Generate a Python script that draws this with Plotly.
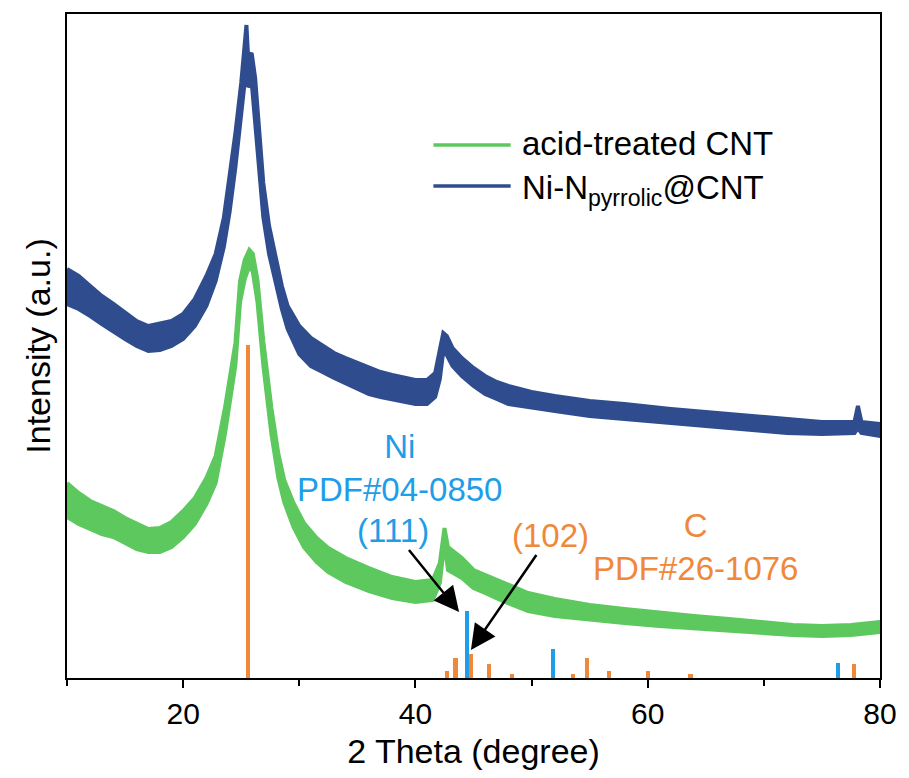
import plotly.graph_objects as go

# ---------------- data ----------------
# Ni-N_pyrrolic@CNT pattern: 2theta with the upper / lower edge of the noisy trace (a.u.)
ni_x = [10, 11, 12, 13, 14, 15, 16, 17, 18, 19, 20, 21, 22, 22.8, 23.5, 24, 24.5, 25, 25.3, 25.45,
        25.6, 25.9, 26.2, 26.5, 26.9, 27.4, 27.9, 28.5, 29, 30, 31, 32, 33, 34, 35, 36, 37, 38, 39,
        40, 41, 41.7, 42.1, 42.4, 42.7, 43.2, 44, 45, 46, 47, 48, 50, 52, 55, 58, 60, 62, 65, 68,
        70, 72, 75, 77.8, 78.1, 78.4, 80]
ni_upper = [409, 402, 392, 382, 374, 366, 357, 352, 354, 357, 364, 379, 402, 424, 460, 500, 545, 595, 630, 653,
            620, 625, 600, 555, 495, 452, 423, 392, 372, 352, 340, 332, 325, 320, 315, 310, 306, 303, 300,
            298, 298, 305, 328, 345, 342, 330, 320, 310, 302, 296, 292, 286, 282, 277, 274, 271, 269, 266, 263,
            261, 258, 256, 256, 272, 256, 254]
ni_lower = [374, 369, 362, 354, 346, 339, 332, 327, 328, 332, 339, 352, 372, 397, 431, 466, 511, 561, 596, 606,
            591, 596, 566, 516, 461, 424, 398, 369, 349, 324, 312, 306, 300, 294, 289, 284, 281, 278, 276,
            274, 274, 281, 299, 327, 323, 312, 302, 292, 284, 279, 274, 270, 267, 262, 259, 257, 255, 252, 249,
            247, 245, 244, 245, 250, 245, 242]

# acid-treated CNT pattern
cnt_x = [10, 11, 12, 13, 14, 15, 16, 17, 18, 19, 20, 21, 22, 22.8, 23.6, 24.1, 24.5, 24.9, 25.3, 25.7,
         26.0, 26.4, 26.9, 27.6, 28.2, 28.7, 29.5, 30.4, 31.5, 32.5, 34, 36, 38, 40, 41.5, 42.1, 42.5,
         42.8, 43.3, 44, 45, 46, 47.5, 49.7, 52, 55, 58, 61, 64, 67, 70, 72.5, 75, 77.5, 80]
cnt_upper = [195, 185, 177, 172, 167, 160, 154, 149, 150, 156, 167, 180, 200, 222, 270, 305, 335, 397, 418, 428,
             424, 398, 337, 270, 224, 198, 175, 155, 140, 130, 120, 110, 101, 96, 98, 115, 150,
             131, 126, 120, 108, 103, 95, 85, 79, 73, 69, 65, 62, 59, 56, 53, 52, 53, 56]
cnt_lower = [161, 154, 149, 144, 141, 135, 129, 126, 126, 131, 141, 154, 174, 195, 244, 281, 313, 376, 399, 412,
             406, 376, 313, 244, 200, 176, 151, 131, 116, 106, 96, 87, 80, 76, 78, 95, 136,
             108, 105, 100, 90, 85, 77, 67, 62, 59, 55, 52, 49, 47, 45, 43, 42, 43, 46]

# Reference stick patterns
c_pdf_x = [25.60, 42.74, 43.45, 44.79, 46.30, 48.34, 53.57, 54.76, 56.64, 60.05, 63.69, 77.75]
c_pdf_y = [333, 7, 20, 24, 14, 4, 4, 20, 7, 7, 4, 14]
ni_pdf_x = [44.44, 51.84, 76.39]
ni_pdf_y = [67, 29, 15]

x_ticks = [20, 40, 60, 80]

# ---------------- styles ----------------
GREEN = "#5cc85e"
NAVY = "#2f4d8e"
ORANGE = "#f0883a"
SKY = "#1e9de8"
FONT = "Liberation Sans, Arial, sans-serif"


def band(xs, up, lo):
    return list(xs) + list(xs)[::-1], list(up) + list(lo)[::-1]


fig = go.Figure()
bx, by = band(ni_x, ni_upper, ni_lower)
fig.add_trace(go.Scatter(x=bx, y=by, mode="lines", fill="toself", fillcolor=NAVY,
                         line=dict(color=NAVY, width=4), name="Ni-N<sub>pyrrolic</sub>@CNT",
                         showlegend=False, hoverinfo="skip"))
bx, by = band(cnt_x, cnt_upper, cnt_lower)
fig.add_trace(go.Scatter(x=bx, y=by, mode="lines", fill="toself", fillcolor=GREEN,
                         line=dict(color=GREEN, width=4), name="acid-treated CNT",
                         showlegend=False, hoverinfo="skip"))
fig.add_trace(go.Bar(x=c_pdf_x, y=c_pdf_y, width=0.36, marker=dict(color=ORANGE, line=dict(width=0)),
                     showlegend=False, name="C PDF#26-1076"))
fig.add_trace(go.Bar(x=ni_pdf_x, y=ni_pdf_y, width=0.36, marker=dict(color=SKY, line=dict(width=0)),
                     showlegend=False, name="Ni PDF#04-0850"))

# manual legend
leg_items = [("acid-treated CNT", GREEN, 0.8027, 0.8057),
             ("Ni-N<sub>pyrrolic</sub>@CNT", NAVY, 0.741, 0.735)]
for text, col, ly, ty in leg_items:
    fig.add_shape(type="line", xref="paper", yref="paper", x0=0.4507, x1=0.5457, y0=ly, y1=ly,
                  line=dict(color=col, width=3.5))
    fig.add_annotation(xref="paper", yref="paper", x=0.5566, y=ty, text=text, showarrow=False,
                       xanchor="left", yanchor="middle", font=dict(family=FONT, size=33, color="black"))

# labels
fig.add_annotation(x=38.65, y=210.5, text="Ni<br>PDF#04-0850", showarrow=False,
                   xanchor="center", yanchor="middle", align="center",
                   font=dict(family=FONT, size=33, color=SKY))
fig.add_annotation(x=64.14, y=131.5, text="C<br>PDF#26-1076", showarrow=False,
                   xanchor="center", yanchor="middle", align="center",
                   font=dict(family=FONT, size=33, color=ORANGE))
# hkl labels with arrows pointing at the reference sticks
fig.add_annotation(x=43.76, y=66, ax=38.05, ay=148, axref="x", ayref="y", xref="x", yref="y",
                   text="(111)", showarrow=True, arrowhead=2, arrowsize=2, arrowwidth=2.5,
                   arrowcolor="black", font=dict(family=FONT, size=33, color=SKY))
fig.add_annotation(x=44.78, y=28, ax=51.6, ay=143, axref="x", ayref="y", xref="x", yref="y",
                   text="(102)", showarrow=True, arrowhead=2, arrowsize=2, arrowwidth=2.5,
                   arrowcolor="black", font=dict(family=FONT, size=33, color=ORANGE))

fig.update_layout(
    width=909, height=778,
    margin=dict(l=67, r=21, t=14, b=100),
    plot_bgcolor="white", paper_bgcolor="white",
    font=dict(family=FONT, color="black"),
    bargap=0, barmode="overlay",
)
fig.update_xaxes(range=[10, 80], tickvals=x_ticks, ticktext=[str(v) for v in x_ticks],
                 ticks="outside", ticklen=8, tickwidth=2, tickcolor="black",
                 minor=dict(tickvals=[10, 30, 50, 70], ticks="outside", ticklen=6, tickwidth=2,
                            tickcolor="black"),
                 showline=True, linewidth=2, linecolor="black", mirror=True,
                 showgrid=False, zeroline=False,
                 tickfont=dict(family=FONT, size=30, color="black"),
                 title=dict(text="2 Theta (degree)", font=dict(family=FONT, size=34, color="black"),
                            standoff=10))
fig.update_yaxes(range=[0, 664], showticklabels=False, ticks="",
                 showline=True, linewidth=2, linecolor="black", mirror=True,
                 showgrid=False, zeroline=False,
                 title=dict(text="Intensity (a.u.)", font=dict(family=FONT, size=34, color="black"),
                            standoff=4))

fig.write_html("out.html")
